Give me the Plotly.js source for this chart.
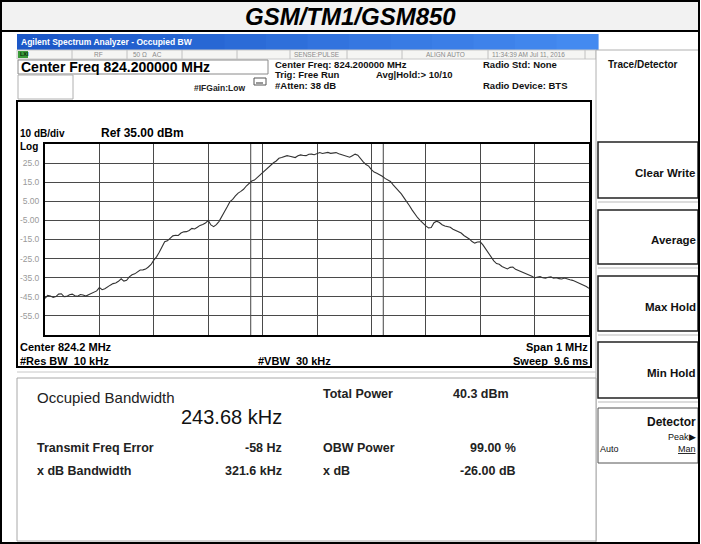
<!DOCTYPE html>
<html><head><meta charset="utf-8">
<script src="https://cdn.plot.ly/plotly-3.0.1.min.js"></script>
<style>html,body{margin:0;padding:0;background:#fff;}#chart{width:701px;height:544px;}</style>
</head><body><div id="chart"></div>
<script>
// ---------- data ----------
const chartTitle = "GSM/TM1/GSM850";
const centerMHz = 824.2;
const spanMHz = 1;
const obwKHz = 243.68;
const refLevelDbm = 35;
const dbPerDiv = 10;
const offsetKHz = [-500,-495,-490,-485,-480,-475,-470,-465,-460,-455,-450,-445,-440,-435,-430,-425,-420,-415,-410,-405,
-400,-395,-390,-385,-380,-375,-370,-365,-360,-355,-350,-345,-340,-335,-330,-325,-320,-315,-310,-305,
-300,-295,-290,-285,-280,-275,-270,-265,-260,-255,-250,-245,-240,-235,-230,-225,-220,-215,-210,-205,
-200,-195,-190,-185,-180,-175,-170,-165,-160,-155,-150,-145,-140,-135,-130,-125,-120,-115,-110,-105,
-100,-95,-90,-85,-80,-75,-70,-65,-60,-55,-50,-45,-40,-35,-30,-25,-20,-15,-10,-5,
0,5,10,15,20,25,30,35,40,45,50,55,60,65,70,75,80,85,90,95,
100,105,110,115,120,125,130,135,140,145,150,155,160,165,170,175,180,185,190,195,
200,205,210,215,220,225,230,235,240,245,250,255,260,265,270,275,280,285,290,295,
300,305,310,315,320,325,330,335,340,345,350,355,360,365,370,375,380,385,390,395,
400,405,410,415,420,425,430,435,440,445,450,455,460,465,470,475,480,485,490,495,500];
const levelDbm = [-45.8,-44.3,-44.6,-45.3,-44.9,-43.6,-43.4,-44.9,-44.8,-43.9,-43.6,-44.5,-44.7,-43.8,-44.1,-44.6,-43.9,-43.1,-42.6,-41.9,
-40.2,-41.3,-40.8,-39.6,-38.9,-38.1,-37.8,-36.9,-35.6,-36.8,-36.4,-34.6,-33.5,-33.0,-31.8,-31.0,-30.9,-30.5,-29.4,-28.1,
-25.8,-24.1,-21.7,-18.6,-16.2,-15.7,-14.3,-13.1,-12.8,-12.9,-11.6,-11.0,-10.9,-10.3,-9.2,-9.5,-8.6,-7.6,-7.1,-6.4,
-5.0,-7.4,-8.3,-7.2,-5.5,-3.2,-0.5,2.1,4.8,6.0,7.8,9.3,10.2,11.3,13.0,14.5,15.6,16.1,17.4,19.0,
20.3,21.2,22.8,24.3,25.2,26.1,27.5,27.9,28.3,28.9,28.6,28.1,27.9,28.8,29.3,29.0,28.9,29.6,29.7,29.4,
30.1,30.5,30.0,30.4,30.6,30.1,30.2,30.5,29.9,29.5,29.3,28.6,28.1,28.9,29.7,29.1,27.2,25.6,24.3,23.4,
21.6,20.3,19.7,19.1,18.1,17.0,16.4,15.4,13.6,12.1,10.4,8.9,6.8,4.9,2.7,0.4,-1.8,-3.6,-5.1,-6.8,
-7.9,-8.9,-8.7,-6.2,-5.4,-6.1,-7.3,-7.9,-8.2,-8.6,-9.6,-10.4,-10.8,-11.6,-12.9,-13.6,-14.7,-16.1,-16.9,-16.3,
-16.2,-17.8,-19.8,-22.0,-24.3,-26.2,-27.6,-28.0,-29.1,-29.8,-30.4,-29.6,-29.4,-30.6,-31.2,-31.5,-32.1,-32.9,-33.4,-34.3,
-35.1,-34.9,-34.4,-35.0,-35.2,-34.8,-34.6,-35.3,-35.0,-35.5,-35.7,-35.2,-35.8,-36.1,-36.4,-37.0,-37.6,-38.2,-38.9,-39.6,-40.6];
const yTickVals = [25,15,5,-5,-15,-25,-35,-45,-55];
const yTickText = ["25.0","15.0","5.00","-5.00","-15.0","-25.0","-35.0","-45.0","-55.0"];
const headerInfo = ["Center Freq: 824.200000 MHz","Trig: Free Run","#Atten: 38 dB"];
const statusItems = ["RF","50 Ω   AC","SENSE:PULSE","ALIGN AUTO","11:34:39 AM Jul 11, 2016"];
const measLabels = ["Transmit Freq Error","x dB Bandwidth"];
const measValues = ["-58 Hz","321.6 kHz"];
const measLabels2 = ["OBW Power","x dB"];
const measValues2 = ["99.00 %","-26.00 dB"];
const softKeys = ["Clear Write","Average","Max Hold","Min Hold"];

// ---------- geometry helpers ----------
const PL=45, PR=589, PT=144, PB=335;
const X = p => (p-PL)/(PR-PL);
const Y = p => (PB-p)/(PB-PT);
const FONT = "Liberation Sans, Arial, sans-serif";
const shapes = [];
const ann = [];
function rect(x0,y0,x1,y1,fill,lc,lw,layer){
  shapes.push({type:'rect',xref:'paper',yref:'paper',x0:X(x0),x1:X(x1),y0:Y(y1),y1:Y(y0),
    fillcolor:fill||'rgba(0,0,0,0)',line:{color:lc||'rgba(0,0,0,0)',width:lw||0},layer:layer||'below'});
}
function line(x0,y0,x1,y1,c,w,layer){
  shapes.push({type:'line',xref:'paper',yref:'paper',x0:X(x0),x1:X(x1),y0:Y(y0),y1:Y(y1),
    line:{color:c,width:w},layer:layer||'below'});
}
function txt(t,x,y,size,opt){
  opt=opt||{};
  ann.push({text:t,x:X(x),y:Y(y),xref:'paper',yref:'paper',showarrow:false,
    xanchor:opt.anchor||'left',yanchor:'middle',borderpad:0,
    font:{family:FONT,size:size,color:opt.color||'#111'}});
}

// title cell
rect(1,1,699,31,'#f2f2f2','#000',2);
txt('<b><i>'+chartTitle+'</i></b>',350,16,24,{anchor:'center',color:'#000'});

// blue title bar (gradient via strips)
const bx0=17,bx1=598,nStrip=14;
for(let i=0;i<nStrip;i++){
  const t=i/(nStrip-1);
  const r=Math.round(28+t*40), g=Math.round(88+t*50), b=Math.round(200+t*40);
  rect(bx0+(bx1-bx0)*i/nStrip,34,bx0+(bx1-bx0)*(i+1)/nStrip+0.6,50,'rgb('+r+','+g+','+b+')');
}
txt('<b>Agilent Spectrum Analyzer - Occupied BW</b>',20,42,8.5,{color:'#fff'});

// status row
rect(17,50,596,59,'#f5f5f3','#c8c8c8',1);
rect(18,51,28,58,'#3a9a3a');
txt('<b>LXI</b>',18.5,54.5,5.5,{color:'#0a2a0a'});
[72,127,182,237,290,347,402,488,585].forEach(s=>line(s,50,s,59,'#c0c0c0',1));
const statusX=[93,132,293,425,491];
statusItems.forEach((s,i)=>txt(s,statusX[i],54.3,6.5,{color:'#8a8a8a'}));

// header boxes
rect(18,60,268,74,'#fff','#8a8a8a',1);
txt('<b>Center Freq 824.200000 MHz</b>',20,67.5,14,{color:'#000'});
rect(18,75,73,99,'#fff','#b0b0b0',1);
txt('<b>#IFGain:Low</b>',193,88,8.5,{color:'#222'});
rect(254,78,266,85,'#fff','#555',1);
line(256,83,263,83,'#333',1);
headerInfo.forEach((s,i)=>txt('<b>'+s+'</b>',274,64.5+i*10.5,9.5,{color:'#111'}));
txt('<b>Avg|Hold:> 10/10</b>',375,75,9.5,{color:'#111'});
txt('<b>Radio Std: None</b>',482,64.5,9.5,{color:'#111'});
txt('<b>Radio Device: BTS</b>',482,85.5,9.5,{color:'#111'});

// right soft-key panel
rect(596,50,699,544,'#fff','#b0b0b0',1);
txt('<b>Trace/Detector</b>',643,64,10,{anchor:'center',color:'#111'});
const keyTop=[142,210,276,342], keyBot=[198,264,331,398];
softKeys.forEach((k,i)=>{
  rect(598,keyTop[i],698,keyBot[i],'#fff','#222',1.5);
  line(598,keyBot[i]+4,698,keyBot[i]+4,'#bbb',1);
  txt('<b>'+k+'</b>',697,(keyTop[i]+keyBot[i])/2+3,11.5,{anchor:'right',color:'#111'});
});
rect(598,408,698,463,'#fff','#555',1);
txt('<b>Detector</b>',697,422,12,{anchor:'right',color:'#111'});
txt('Peak▶',697,437,9,{anchor:'right',color:'#111'});
txt('Auto',599,449,9,{color:'#111'});
txt('<u>Man</u>',697,449,9,{anchor:'right',color:'#111'});

// graph frame
rect(17,101,591,367,'#fff','#000',2);
txt('<b>10 dB/div</b>',19,133,10,{color:'#000'});
txt('<b>Ref '+refLevelDbm.toFixed(2)+' dBm</b>',100,133,12,{color:'#000'});
txt('<b>Log</b>',19,146,10,{color:'#000'});
txt('<b>Center '+centerMHz+' MHz</b>',19,347,11,{color:'#000'});
txt('<b>#Res BW  10 kHz</b>',19,361,11,{color:'#000'});
txt('<b>#VBW  30 kHz</b>',294,361,11,{anchor:'center',color:'#000'});
txt('<b>Span '+spanMHz+' MHz</b>',589,347,11,{anchor:'right',color:'#000'});
txt('<b>Sweep  9.6 ms</b>',589,361,11,{anchor:'right',color:'#000'});
line(17,372,596,372,'#c8c8c8',1);

// measurement panel
rect(17,378,596,541,'#fff','#a8a8a8',1);
txt('Occupied Bandwidth',36,397,15,{color:'#222'});
txt((obwKHz).toFixed(2)+' kHz',283,417,20,{anchor:'right',color:'#111'});
txt('<b>Total Power</b>',322,394,12.5,{color:'#222'});
txt('<b>40.3 dBm</b>',452,394,12.5,{color:'#222'});
measLabels.forEach((s,i)=>{
  txt('<b>'+s+'</b>',36,448+i*23,12.5,{color:'#222'});
  txt('<b>'+measValues[i]+'</b>',283,448+i*23,12.5,{anchor:'right',color:'#222'});
  txt('<b>'+measLabels2[i]+'</b>',322,448+i*23,12.5,{color:'#222'});
  txt('<b>'+measValues2[i]+'</b>',517,448+i*23,12.5,{anchor:'right',color:'#222'});
});

// outer border
rect(1,1,699,543,'rgba(0,0,0,0)','#000',2,'above');

// OBW marker lines (data coordinates)
[centerMHz-obwKHz/2000, centerMHz+obwKHz/2000].forEach(f=>{
  shapes.push({type:'line',xref:'x',yref:'paper',x0:f,x1:f,y0:0,y1:1,line:{color:'#444',width:1},layer:'below'});
});

const freqMHz = offsetKHz.map(k=>centerMHz+k/1000);
const trace = {x:freqMHz,y:levelDbm,type:'scatter',mode:'lines',
  line:{color:'#333',width:1.1},hoverinfo:'skip'};

const yMax=refLevelDbm, yMin=refLevelDbm-10*dbPerDiv;
const layout = {
  width:701,height:544,
  margin:{l:PL,r:701-PR,t:PT,b:544-PB,pad:0},
  paper_bgcolor:'#fff',plot_bgcolor:'#fff',
  showlegend:false,
  xaxis:{range:[centerMHz-spanMHz/2,centerMHz+spanMHz/2],tick0:centerMHz-spanMHz/2,dtick:spanMHz/10,
    showticklabels:false,ticks:'',showgrid:true,gridcolor:'#4a4a4a',gridwidth:1,zeroline:false,
    showline:true,mirror:true,linecolor:'#000',linewidth:2,fixedrange:true},
  yaxis:{range:[yMin,yMax],tickvals:yTickVals,ticktext:yTickText,ticks:'',ticklabelstandoff:2,
    tickfont:{family:FONT,size:8.5,color:'#9a9a9a'},showgrid:true,gridcolor:'#4a4a4a',gridwidth:1,
    zeroline:false,showline:true,mirror:true,linecolor:'#000',linewidth:2,fixedrange:true},
  shapes:shapes,annotations:ann
};
Plotly.newPlot('chart',[trace],layout,{staticPlot:true,displayModeBar:false});
</script></body></html>
